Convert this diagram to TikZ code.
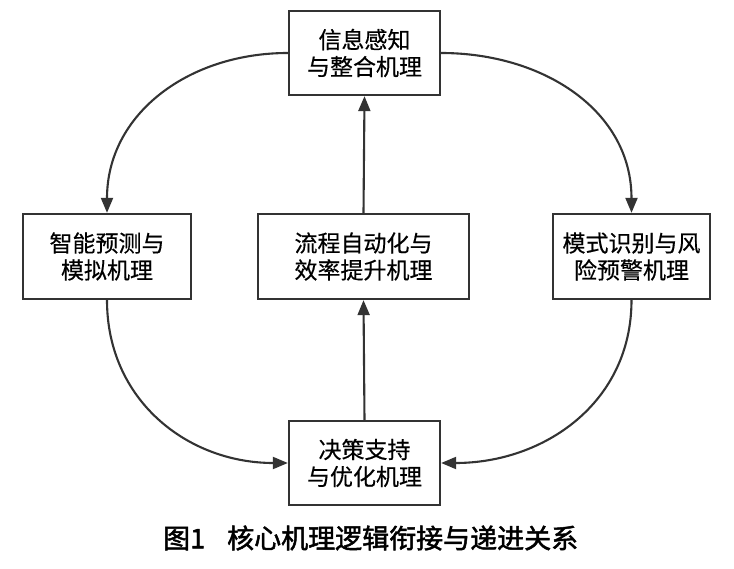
\documentclass[tikz,border=0pt]{standalone}
\usepackage{fontspec}
\setmainfont{Liberation Sans}
\newfontfamily\cjk{Noto Sans CJK SC}[FakeBold=0.4]
\newfontfamily\cjkb{Noto Sans CJK SC}[FakeBold=1.8]
\usetikzlibrary{arrows.meta}
\begin{document}
\begin{tikzpicture}[x=1pt,y=-1pt,
  box/.style={draw=black!80,line width=2.3pt,fill=white,inner sep=0pt,align=center,
    font=\cjk\fontsize{23}{27}\selectfont},
  conn/.style={draw=black!80,line width=2.1pt,-{Triangle[length=15pt,width=12pt]}}]
\useasboundingbox (0,0) rectangle (734,569);
\node[box,minimum width=151pt,minimum height=84pt] (top) at (364.5,53) {信息感知\\与整合机理};
\node[box,minimum width=168pt,minimum height=85pt] (left) at (107,256.5) {智能预测与\\模拟机理};
\node[box,minimum width=211pt,minimum height=85pt] (mid) at (363.5,256.5) {流程自动化与\\效率提升机理};
\node[box,minimum width=157pt,minimum height=85pt] (right) at (631.5,256.5) {模式识别与风\\险预警机理};
\node[box,minimum width=151pt,minimum height=84pt] (bot) at (364.5,463) {决策支持\\与优化机理};
\draw[conn] (top.west) to[out=180,in=90,looseness=1.05] (left.north);
\draw[conn] (top.east) to[out=0,in=90,looseness=1.05] (right.north);
\draw[conn] (left.south) to[out=-90,in=180,looseness=1.05] (bot.west);
\draw[conn] (right.south) to[out=-90,in=0,looseness=1.05] (bot.east);
\draw[conn] (bot.north) -- (mid.south);
\draw[conn] (mid.north) -- (top.south);
\node[font=\cjkb\fontsize{27}{30}\selectfont,anchor=west,inner sep=0pt] (cap) at (163,538) {图1\hspace{22pt}核心机理逻辑衔接与递进关系};
\end{tikzpicture}
\end{document}
